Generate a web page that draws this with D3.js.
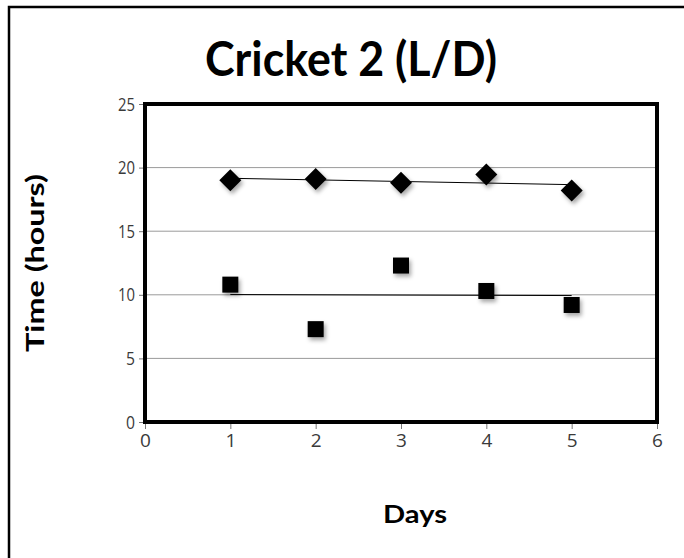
<!DOCTYPE html>
<html>
<head>
<meta charset="utf-8">
<script src="https://cdn.jsdelivr.net/npm/d3@7"></script>
<style>
    body { margin: 0; background: #fff; }
    svg text { font-family: Lato, "Open Sans", sans-serif; }
    .tick text { font-family: "Open Sans", sans-serif; font-size: 19px; fill: #3a3a3a; }
</style>
</head>
<body>
<svg id="chart" width="684" height="558"></svg>
<script>
    // data
    var days = [1, 2, 3, 4, 5];
    var lightHours = [19.0, 19.1, 18.8, 19.45, 18.2];
    var darkHours = [10.8, 7.3, 12.3, 10.3, 9.2];
    var xTicks = [0, 1, 2, 3, 4, 5, 6];
    var yTicks = [0, 5, 10, 15, 20, 25];

    var svg = d3.select('#chart'),
        plotLeft = 145, plotRight = 657, plotTop = 104, plotBottom = 422;

    var x = d3.scaleLinear().domain([0, 6]).range([plotLeft, plotRight]);
    var y = d3.scaleLinear().domain([0, 25]).range([plotBottom, plotTop]);

    var defs = svg.append('defs');
    defs.append('filter')
        .attr('id', 'shadow')
        .attr('x', '-50%').attr('y', '-50%')
        .attr('width', '200%').attr('height', '200%')
        .append('feDropShadow')
        .attr('dx', 2).attr('dy', 3)
        .attr('stdDeviation', 2)
        .attr('flood-color', '#000')
        .attr('flood-opacity', 0.35);

    // outer frame (cut at right/bottom edge)
    svg.append('path')
        .attr('d', 'M9,600V7H700')
        .attr('fill', 'none')
        .attr('stroke', '#000')
        .attr('stroke-width', 2.5);

    svg.append('text')
        .attr('x', 351).attr('y', 76)
        .attr('text-anchor', 'middle')
        .style('font-size', '48px')
        .attr('font-weight', 'bold')
        .attr('textLength', 292)
        .attr('lengthAdjust', 'spacingAndGlyphs')
        .text('Cricket 2 (L/D)');

    // gridlines
    svg.append('g')
        .selectAll('line')
        .data(yTicks.filter(function(d) { return d > 0 && d < 25; }))
        .enter().append('line')
        .attr('x1', plotLeft).attr('x2', plotRight)
        .attr('y1', function(d) { return y(d); })
        .attr('y2', function(d) { return y(d); })
        .attr('stroke', '#9a9a9a')
        .attr('stroke-width', 1);

    // axes
    var yAxis = svg.append('g')
        .attr('transform', 'translate(' + plotLeft + ',0)')
        .call(d3.axisLeft(y).tickValues(yTicks).tickFormat(d3.format('d')).tickSize(6).tickPadding(4));
    var xAxis = svg.append('g')
        .attr('transform', 'translate(0,' + plotBottom + ')')
        .call(d3.axisBottom(x).tickValues(xTicks).tickFormat(d3.format('d')).tickSize(7).tickPadding(5));

    [yAxis, xAxis].forEach(function(ax) {
        ax.attr('font-size', null).attr('font-family', null);
        ax.select('.domain').remove();
        ax.selectAll('line').attr('stroke', '#777');
    });
    yAxis.selectAll('text').attr('textLength', function(d) { return d >= 10 ? 17 : 9; })
        .attr('lengthAdjust', 'spacingAndGlyphs');

    // plot border
    svg.append('rect')
        .attr('x', plotLeft).attr('y', plotTop)
        .attr('width', plotRight - plotLeft).attr('height', plotBottom - plotTop)
        .attr('fill', 'none')
        .attr('stroke', '#000')
        .attr('stroke-width', 4);

    // linear trendlines
    function fit(vals) {
        var mx = d3.mean(days), my = d3.mean(vals);
        var num = d3.sum(days, function(d, i) { return (d - mx) * (vals[i] - my); });
        var den = d3.sum(days, function(d) { return (d - mx) * (d - mx); });
        var slope = num / den;
        return function(d) { return my + slope * (d - mx); };
    }

    [lightHours, darkHours].forEach(function(vals) {
        var f = fit(vals);
        var d0 = days[0], d1 = days[days.length - 1];
        svg.append('line')
            .attr('x1', x(d0)).attr('y1', y(f(d0)))
            .attr('x2', x(d1)).attr('y2', y(f(d1)))
            .attr('stroke', '#000')
            .attr('stroke-width', 1);
    });

    var pts = days.map(function(d, i) { return { day: d, light: lightHours[i], dark: darkHours[i] }; });

    svg.append('g')
        .selectAll('path')
        .data(pts)
        .enter().append('path')
        .attr('d', 'M0,-11L11,0L0,11L-11,0Z')
        .attr('transform', function(d) { return 'translate(' + x(d.day) + ',' + y(d.light) + ')'; })
        .attr('fill', '#000')
        .attr('filter', 'url(#shadow)');

    svg.append('g')
        .selectAll('rect')
        .data(pts)
        .enter().append('rect')
        .attr('x', function(d) { return x(d.day) - 8; })
        .attr('y', function(d) { return y(d.dark) - 8; })
        .attr('width', 16).attr('height', 16)
        .attr('fill', '#000')
        .attr('filter', 'url(#shadow)');

    // axis titles
    svg.append('text')
        .attr('transform', 'translate(44,263) rotate(-90)')
        .attr('text-anchor', 'middle')
        .style('font-size', '24px')
        .attr('font-weight', 'bold')
        .attr('textLength', 178)
        .attr('lengthAdjust', 'spacingAndGlyphs')
        .text('Time (hours)');

    svg.append('text')
        .attr('x', 415).attr('y', 523)
        .attr('text-anchor', 'middle')
        .style('font-size', '24px')
        .attr('font-weight', 'bold')
        .attr('textLength', 64)
        .attr('lengthAdjust', 'spacingAndGlyphs')
        .text('Days');
</script>
</body>
</html>
